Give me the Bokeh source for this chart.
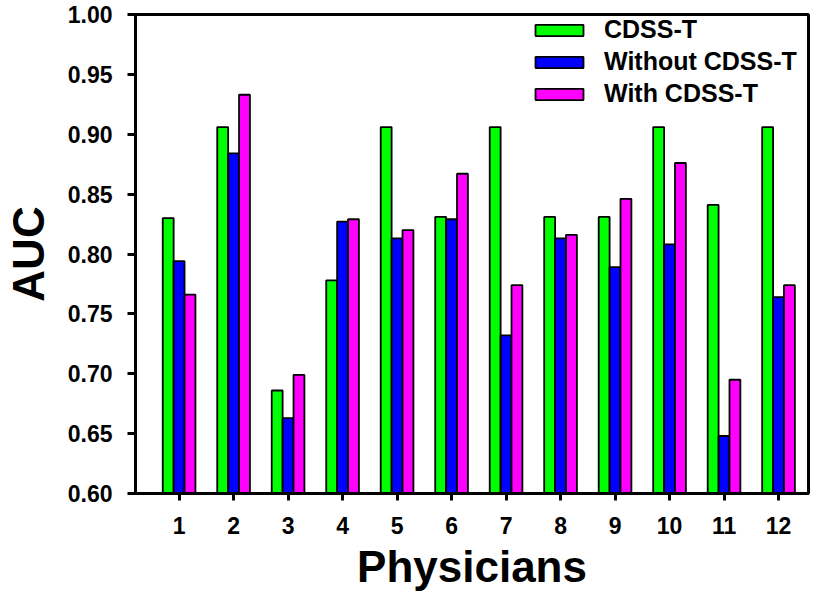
from bokeh.plotting import figure
from bokeh.models import (ColumnDataSource, FixedTicker, Legend, LegendItem,
                          NumeralTickFormatter)
from bokeh.embed import file_html
from bokeh.resources import INLINE

physicians = [1, 2, 3, 4, 5, 6, 7, 8, 9, 10, 11, 12]
tick_labels = ["1", "2", "3", "4", "5", "6", "7", "8", "9", "10", "11", "12"]
cdss_t = [0.830, 0.906, 0.686, 0.778, 0.906, 0.831, 0.906, 0.831, 0.831, 0.906, 0.841, 0.906]
without_cdss = [0.794, 0.884, 0.663, 0.827, 0.813, 0.829, 0.732, 0.813, 0.789, 0.808, 0.648, 0.764]
with_cdss = [0.766, 0.933, 0.699, 0.829, 0.820, 0.867, 0.774, 0.816, 0.846, 0.876, 0.695, 0.774]
y_ticks = [0.60, 0.65, 0.70, 0.75, 0.80, 0.85, 0.90, 0.95, 1.00]

series_names = ["CDSS-T", "Without CDSS-T", "With CDSS-T"]
series_vals = [cdss_t, without_cdss, with_cdss]
colors = ["#00FF00", "#0000FF", "#FF00FF"]
offsets = [-0.2, 0.0, 0.2]
bar_w = 0.2
x_lo, x_hi = 0.2, 12.55
y_lo, y_hi = 0.6, 1.0

FONT = "Liberation Sans"

p = figure(width=810, height=599, x_range=(x_lo, x_hi), y_range=(y_lo, y_hi),
           output_backend="svg", toolbar_location=None,
           min_border_left=133, min_border_top=14, min_border_right=2, min_border_bottom=106)
p.grid.visible = False
p.outline_line_color = "black"
p.outline_line_width = 3
p.background_fill_color = "white"

renderers = []
for name, vals, col, off in zip(series_names, series_vals, colors, offsets):
    src = ColumnDataSource(dict(x=[v + off for v in physicians], top=vals))
    r = p.vbar(x="x", top="top", bottom=y_lo, width=bar_w, source=src,
               fill_color=col, line_color="black", line_width=1.8)
    renderers.append((name, r))

# axes
p.yaxis.ticker = FixedTicker(ticks=y_ticks)
p.yaxis.formatter = NumeralTickFormatter(format="0.00")
p.xaxis.ticker = FixedTicker(ticks=physicians)
p.xaxis.major_label_overrides = {v: l for v, l in zip(physicians, tick_labels)}
for ax in (p.xaxis[0], p.yaxis[0]):
    ax.axis_line_width = 3
    ax.axis_line_color = "black"
    ax.major_tick_line_width = 3
    ax.major_tick_in = 0
    ax.minor_tick_line_color = None
    ax.major_label_text_font = FONT
    ax.major_label_text_font_style = "bold"
    ax.major_label_text_font_size = "23px"
    ax.major_label_text_color = "black"
    ax.axis_label_text_font = FONT
    ax.axis_label_text_font_style = "bold"
    ax.axis_label_text_font_size = "44px"
    ax.axis_label_text_color = "black"
p.yaxis.major_tick_out = 8
p.xaxis.major_tick_out = 7
p.yaxis.major_label_standoff = 15
p.xaxis.major_label_standoff = 16
p.yaxis.axis_label = "AUC"
p.xaxis.axis_label = "Physicians"
p.yaxis.axis_label_standoff = 12
p.xaxis.axis_label_standoff = 5

legend = Legend(items=[LegendItem(label=n, renderers=[r]) for n, r in renderers],
                location=(394, 385))
legend.padding = 0
legend.margin = 0
legend.spacing = 3
legend.border_line_color = None
legend.background_fill_alpha = 0
legend.glyph_width = 60
legend.glyph_height = 14
legend.label_height = 29
legend.label_standoff = 15
legend.label_text_font = FONT
legend.label_text_font_style = "bold"
legend.label_text_font_size = "25px"
legend.label_text_color = "black"
p.add_layout(legend, "center")

open("out.html", "w").write(file_html(p, INLINE))
